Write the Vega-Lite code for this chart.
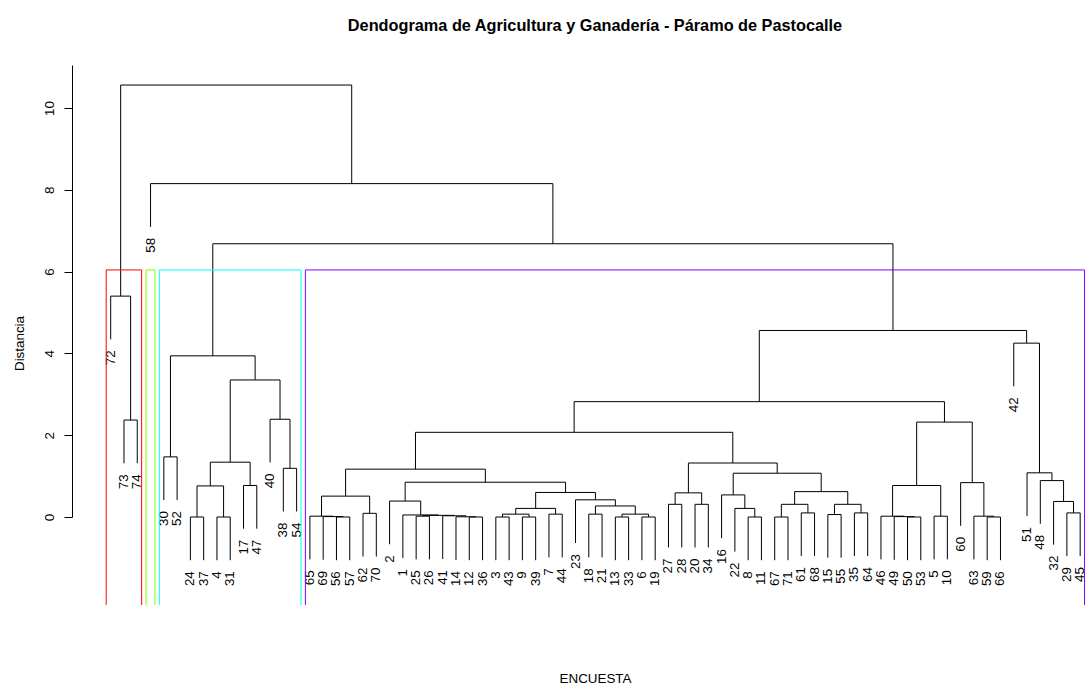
{
  "$schema": "https://vega.github.io/schema/vega-lite/v6.json",
  "width": 1016,
  "height": 540,
  "autosize": {"type": "none"},
  "padding": {"left": 72, "top": 65, "right": 0, "bottom": 81},
  "background": "white",
  "config": {"view": {"stroke": null}, "font": "Liberation Sans"},
  "title": {"text": "Dendograma de Agricultura y Ganadería - Páramo de Pastocalle", "fontSize": 16.3, "fontWeight": "bold", "font": "Liberation Sans", "anchor": "middle", "dx": 15, "frame": "group", "offset": 18, "baseline": "alphabetic", "color": "black"},
  "datasets": {
    "merges": [
      {"xl": 2, "xr": 3, "h": 2.37, "hl": 1.314, "hr": 1.314},
      {"xl": 1, "xr": 2.5, "h": 5.4, "hl": 4.344, "hr": 2.37},
      {"xl": 5, "xr": 6, "h": 1.47, "hl": 0.414, "hr": 0.414},
      {"xl": 7, "xr": 8, "h": 0, "hl": -1.056, "hr": -1.056},
      {"xl": 9, "xr": 10, "h": 0, "hl": -1.056, "hr": -1.056},
      {"xl": 7.5, "xr": 9.5, "h": 0.76, "hl": 0, "hr": 0},
      {"xl": 11, "xr": 12, "h": 0.77, "hl": -0.286, "hr": -0.286},
      {"xl": 8.5, "xr": 11.5, "h": 1.34, "hl": 0.76, "hr": 0.77},
      {"xl": 14, "xr": 15, "h": 1.19, "hl": 0.134, "hr": 0.134},
      {"xl": 13, "xr": 14.5, "h": 2.39, "hl": 1.334, "hr": 1.19},
      {"xl": 10, "xr": 13.75, "h": 3.35, "hl": 1.34, "hr": 2.39},
      {"xl": 5.5, "xr": 11.875, "h": 3.94, "hl": 1.47, "hr": 3.35},
      {"xl": 18, "xr": 19, "h": 0, "hl": -1.056, "hr": -1.056},
      {"xl": 17, "xr": 18.5, "h": 0.01, "hl": -1.046, "hr": 0},
      {"xl": 16, "xr": 17.75, "h": 0.02, "hl": -1.036, "hr": 0.01},
      {"xl": 20, "xr": 21, "h": 0.09, "hl": -0.966, "hr": -0.966},
      {"xl": 16.875, "xr": 20.5, "h": 0.51, "hl": 0.02, "hr": 0.09},
      {"xl": 28, "xr": 29, "h": 0, "hl": -1.056, "hr": -1.056},
      {"xl": 27, "xr": 28.5, "h": 0.005, "hl": -1.051, "hr": 0},
      {"xl": 26, "xr": 27.75, "h": 0.03, "hl": -1.026, "hr": 0.005},
      {"xl": 24, "xr": 25, "h": 0.02, "hl": -1.036, "hr": -1.036},
      {"xl": 24.5, "xr": 26.875, "h": 0.04, "hl": 0.02, "hr": 0.03},
      {"xl": 23, "xr": 25.6875, "h": 0.05, "hl": -1.006, "hr": 0.04},
      {"xl": 22, "xr": 24.34375, "h": 0.39, "hl": -0.666, "hr": 0.05},
      {"xl": 30, "xr": 31, "h": 0, "hl": -1.056, "hr": -1.056},
      {"xl": 32, "xr": 33, "h": 0, "hl": -1.056, "hr": -1.056},
      {"xl": 30.5, "xr": 32.5, "h": 0.07, "hl": 0, "hr": 0},
      {"xl": 34, "xr": 35, "h": 0.07, "hl": -0.986, "hr": -0.986},
      {"xl": 31.5, "xr": 34.5, "h": 0.21, "hl": 0.07, "hr": 0.07},
      {"xl": 37, "xr": 38, "h": 0.07, "hl": -0.986, "hr": -0.986},
      {"xl": 39, "xr": 40, "h": 0, "hl": -1.056, "hr": -1.056},
      {"xl": 41, "xr": 42, "h": 0, "hl": -1.056, "hr": -1.056},
      {"xl": 39.5, "xr": 41.5, "h": 0.07, "hl": 0, "hr": 0},
      {"xl": 37.5, "xr": 40.5, "h": 0.27, "hl": 0.07, "hr": 0.07},
      {"xl": 36, "xr": 39, "h": 0.42, "hl": -0.636, "hr": 0.27},
      {"xl": 33, "xr": 37.5, "h": 0.6, "hl": 0.21, "hr": 0.42},
      {"xl": 23.171875, "xr": 35.25, "h": 0.85, "hl": 0.39, "hr": 0.6},
      {"xl": 18.6875, "xr": 29.2109, "h": 1.17, "hl": 0.51, "hr": 0.85},
      {"xl": 43, "xr": 44, "h": 0.31, "hl": -0.746, "hr": -0.746},
      {"xl": 45, "xr": 46, "h": 0.31, "hl": -0.746, "hr": -0.746},
      {"xl": 43.5, "xr": 45.5, "h": 0.59, "hl": 0.31, "hr": 0.31},
      {"xl": 49, "xr": 50, "h": 0, "hl": -1.056, "hr": -1.056},
      {"xl": 48, "xr": 49.5, "h": 0.21, "hl": -0.846, "hr": 0},
      {"xl": 47, "xr": 48.75, "h": 0.54, "hl": -0.516, "hr": 0.21},
      {"xl": 51, "xr": 52, "h": 0, "hl": -1.056, "hr": -1.056},
      {"xl": 53, "xr": 54, "h": 0.1, "hl": -0.956, "hr": -0.956},
      {"xl": 51.5, "xr": 53.5, "h": 0.31, "hl": 0, "hr": 0.1},
      {"xl": 55, "xr": 56, "h": 0.06, "hl": -0.996, "hr": -0.996},
      {"xl": 57, "xr": 58, "h": 0.1, "hl": -0.956, "hr": -0.956},
      {"xl": 55.5, "xr": 57.5, "h": 0.31, "hl": 0.06, "hr": 0.1},
      {"xl": 52.5, "xr": 56.5, "h": 0.62, "hl": 0.31, "hr": 0.31},
      {"xl": 47.875, "xr": 54.5, "h": 1.07, "hl": 0.54, "hr": 0.62},
      {"xl": 44.5, "xr": 51.1875, "h": 1.32, "hl": 0.59, "hr": 1.07},
      {"xl": 23.9492, "xr": 47.8438, "h": 2.07, "hl": 1.17, "hr": 1.32},
      {"xl": 61, "xr": 62, "h": 0, "hl": -1.056, "hr": -1.056},
      {"xl": 60, "xr": 61.5, "h": 0.01, "hl": -1.046, "hr": 0},
      {"xl": 59, "xr": 60.75, "h": 0.02, "hl": -1.036, "hr": 0.01},
      {"xl": 63, "xr": 64, "h": 0.02, "hl": -1.036, "hr": -1.036},
      {"xl": 59.875, "xr": 63.5, "h": 0.77, "hl": 0.02, "hr": 0.02},
      {"xl": 67, "xr": 68, "h": 0, "hl": -1.056, "hr": -1.056},
      {"xl": 66, "xr": 67.5, "h": 0.02, "hl": -1.036, "hr": 0},
      {"xl": 65, "xr": 66.75, "h": 0.84, "hl": -0.216, "hr": 0.02},
      {"xl": 61.6875, "xr": 65.875, "h": 2.32, "hl": 0.77, "hr": 0.84},
      {"xl": 35.8965, "xr": 63.7813, "h": 2.82, "hl": 2.07, "hr": 2.32},
      {"xl": 73, "xr": 74, "h": 0.1, "hl": -0.956, "hr": -0.956},
      {"xl": 72, "xr": 73.5, "h": 0.38, "hl": -0.676, "hr": 0.1},
      {"xl": 71, "xr": 72.75, "h": 0.89, "hl": -0.166, "hr": 0.38},
      {"xl": 70, "xr": 71.875, "h": 1.08, "hl": 0.024, "hr": 0.89},
      {"xl": 69, "xr": 70.9375, "h": 4.25, "hl": 3.194, "hr": 1.08},
      {"xl": 49.8389, "xr": 69.9688, "h": 4.56, "hl": 2.82, "hr": 4.25},
      {"xl": 8.6875, "xr": 59.9038, "h": 6.68, "hl": 3.94, "hr": 4.56},
      {"xl": 4, "xr": 34.2957, "h": 8.15, "hl": 7.094, "hr": 6.68},
      {"xl": 1.75, "xr": 19.1478, "h": 10.56, "hl": 5.4, "hr": 8.15}
    ],
    "leaves": [
      {"pos": 1, "label": "72", "bottom": 4.344},
      {"pos": 2, "label": "73", "bottom": 1.314},
      {"pos": 3, "label": "74", "bottom": 1.314},
      {"pos": 4, "label": "58", "bottom": 7.094},
      {"pos": 5, "label": "30", "bottom": 0.414},
      {"pos": 6, "label": "52", "bottom": 0.414},
      {"pos": 7, "label": "24", "bottom": -1.056},
      {"pos": 8, "label": "37", "bottom": -1.056},
      {"pos": 9, "label": "4", "bottom": -1.056},
      {"pos": 10, "label": "31", "bottom": -1.056},
      {"pos": 11, "label": "17", "bottom": -0.286},
      {"pos": 12, "label": "47", "bottom": -0.286},
      {"pos": 13, "label": "40", "bottom": 1.334},
      {"pos": 14, "label": "38", "bottom": 0.134},
      {"pos": 15, "label": "54", "bottom": 0.134},
      {"pos": 16, "label": "65", "bottom": -1.036},
      {"pos": 17, "label": "69", "bottom": -1.046},
      {"pos": 18, "label": "56", "bottom": -1.056},
      {"pos": 19, "label": "57", "bottom": -1.056},
      {"pos": 20, "label": "62", "bottom": -0.966},
      {"pos": 21, "label": "70", "bottom": -0.966},
      {"pos": 22, "label": "2", "bottom": -0.666},
      {"pos": 23, "label": "1", "bottom": -1.006},
      {"pos": 24, "label": "25", "bottom": -1.036},
      {"pos": 25, "label": "26", "bottom": -1.036},
      {"pos": 26, "label": "41", "bottom": -1.026},
      {"pos": 27, "label": "14", "bottom": -1.051},
      {"pos": 28, "label": "12", "bottom": -1.056},
      {"pos": 29, "label": "36", "bottom": -1.056},
      {"pos": 30, "label": "3", "bottom": -1.056},
      {"pos": 31, "label": "43", "bottom": -1.056},
      {"pos": 32, "label": "9", "bottom": -1.056},
      {"pos": 33, "label": "39", "bottom": -1.056},
      {"pos": 34, "label": "7", "bottom": -0.986},
      {"pos": 35, "label": "44", "bottom": -0.986},
      {"pos": 36, "label": "23", "bottom": -0.636},
      {"pos": 37, "label": "18", "bottom": -0.986},
      {"pos": 38, "label": "21", "bottom": -0.986},
      {"pos": 39, "label": "13", "bottom": -1.056},
      {"pos": 40, "label": "33", "bottom": -1.056},
      {"pos": 41, "label": "6", "bottom": -1.056},
      {"pos": 42, "label": "19", "bottom": -1.056},
      {"pos": 43, "label": "27", "bottom": -0.746},
      {"pos": 44, "label": "28", "bottom": -0.746},
      {"pos": 45, "label": "20", "bottom": -0.746},
      {"pos": 46, "label": "34", "bottom": -0.746},
      {"pos": 47, "label": "16", "bottom": -0.516},
      {"pos": 48, "label": "22", "bottom": -0.846},
      {"pos": 49, "label": "8", "bottom": -1.056},
      {"pos": 50, "label": "11", "bottom": -1.056},
      {"pos": 51, "label": "67", "bottom": -1.056},
      {"pos": 52, "label": "71", "bottom": -1.056},
      {"pos": 53, "label": "61", "bottom": -0.956},
      {"pos": 54, "label": "68", "bottom": -0.956},
      {"pos": 55, "label": "15", "bottom": -0.996},
      {"pos": 56, "label": "55", "bottom": -0.996},
      {"pos": 57, "label": "35", "bottom": -0.956},
      {"pos": 58, "label": "64", "bottom": -0.956},
      {"pos": 59, "label": "46", "bottom": -1.036},
      {"pos": 60, "label": "49", "bottom": -1.046},
      {"pos": 61, "label": "50", "bottom": -1.056},
      {"pos": 62, "label": "53", "bottom": -1.056},
      {"pos": 63, "label": "5", "bottom": -1.036},
      {"pos": 64, "label": "10", "bottom": -1.036},
      {"pos": 65, "label": "60", "bottom": -0.216},
      {"pos": 66, "label": "63", "bottom": -1.036},
      {"pos": 67, "label": "59", "bottom": -1.056},
      {"pos": 68, "label": "66", "bottom": -1.056},
      {"pos": 69, "label": "42", "bottom": 3.194},
      {"pos": 70, "label": "51", "bottom": 0.024},
      {"pos": 71, "label": "48", "bottom": -0.166},
      {"pos": 72, "label": "32", "bottom": -0.676},
      {"pos": 73, "label": "29", "bottom": -0.956},
      {"pos": 74, "label": "45", "bottom": -0.956}
    ],
    "clusters": [
      {"cluster": "1", "x1": 0.66, "x2": 3.33, "top": 6.04, "bottom": -2.15},
      {"cluster": "2", "x1": 3.66, "x2": 4.33, "top": 6.04, "bottom": -2.15},
      {"cluster": "3", "x1": 4.66, "x2": 15.33, "top": 6.04, "bottom": -2.15},
      {"cluster": "4", "x1": 15.66, "x2": 74.33, "top": 6.04, "bottom": -2.15}
    ]
  },
  "layer": [
    {
      "data": {"name": "merges"},
      "mark": {"type": "rule", "color": "black", "strokeWidth": 1},
      "encoding": {
        "x": {"field": "xl", "type": "quantitative", "title": "ENCUESTA", "scale": {"domain": [-1.914, 74.59], "nice": false, "zero": false},
          "axis": {"domain": false, "ticks": false, "labels": false, "grid": false, "title": "ENCUESTA", "titleFontSize": 13.4, "titleFontWeight": "normal", "titleColor": "black", "titleX": 523, "titleY": 77, "titleAlign": "center", "titleBaseline": "alphabetic", "titleFont": "Liberation Sans"}},
        "x2": {"field": "xr"},
        "y": {"field": "h", "type": "quantitative", "title": "Distancia", "scale": {"domain": [0, 11.05], "range": [452, 0], "nice": false, "zero": false},
          "axis": {"values": [0, 2, 4, 6, 8, 10], "grid": false, "domain": true, "domainColor": "black", "domainWidth": 1, "ticks": true, "tickColor": "black", "tickSize": 8, "tickWidth": 1, "labelAngle": 270, "labelAlign": "center", "labelBaseline": "alphabetic", "labelPadding": 11, "labelFontSize": 13.4, "labelColor": "black", "labelFont": "Liberation Sans", "labelFlush": false, "labelOverlap": false, "title": "Distancia", "titleAngle": 270, "titleX": -49, "titleY": 278, "titleAlign": "center", "titleBaseline": "alphabetic", "titleFontSize": 13.4, "titleFontWeight": "normal", "titleColor": "black", "titleFont": "Liberation Sans"}}
      }
    },
    {
      "data": {"name": "merges"},
      "mark": {"type": "rule", "color": "black", "strokeWidth": 1},
      "encoding": {
        "x": {"field": "xl", "type": "quantitative", "title": "ENCUESTA", "scale": {"domain": [-1.914, 74.59], "nice": false, "zero": false}},
        "y": {"field": "hl", "type": "quantitative", "title": "Distancia", "scale": {"domain": [0, 11.05], "range": [452, 0], "nice": false, "zero": false}},
        "y2": {"field": "h"}
      }
    },
    {
      "data": {"name": "merges"},
      "mark": {"type": "rule", "color": "black", "strokeWidth": 1},
      "encoding": {
        "x": {"field": "xr", "type": "quantitative", "title": "ENCUESTA", "scale": {"domain": [-1.914, 74.59], "nice": false, "zero": false}},
        "y": {"field": "hr", "type": "quantitative", "title": "Distancia", "scale": {"domain": [0, 11.05], "range": [452, 0], "nice": false, "zero": false}},
        "y2": {"field": "h"}
      }
    },
    {
      "data": {"name": "leaves"},
      "mark": {"type": "text", "angle": 270, "align": "right", "baseline": "middle", "dx": -11, "fontSize": 13.4, "color": "black", "font": "Liberation Sans"},
      "encoding": {
        "x": {"field": "pos", "type": "quantitative", "title": "ENCUESTA", "scale": {"domain": [-1.914, 74.59], "nice": false, "zero": false}},
        "y": {"field": "bottom", "type": "quantitative", "title": "Distancia", "scale": {"domain": [0, 11.05], "range": [452, 0], "nice": false, "zero": false}},
        "text": {"field": "label"}
      }
    },
    {
      "data": {"name": "clusters"},
      "mark": {"type": "rule", "strokeWidth": 1},
      "encoding": {
        "x": {"field": "x1", "type": "quantitative", "title": "ENCUESTA", "scale": {"domain": [-1.914, 74.59], "nice": false, "zero": false}},
        "x2": {"field": "x2"},
        "y": {"field": "top", "type": "quantitative", "title": "Distancia", "scale": {"domain": [0, 11.05], "range": [452, 0], "nice": false, "zero": false}},
        "color": {"field": "cluster", "type": "nominal", "scale": {"domain": ["1", "2", "3", "4"], "range": ["#ff0000", "#80ff00", "#00ffff", "#8000ff"]}, "legend": null}
      }
    },
    {
      "data": {"name": "clusters"},
      "mark": {"type": "rule", "strokeWidth": 1},
      "encoding": {
        "x": {"field": "x1", "type": "quantitative", "title": "ENCUESTA", "scale": {"domain": [-1.914, 74.59], "nice": false, "zero": false}},
        "y": {"field": "bottom", "type": "quantitative", "title": "Distancia", "scale": {"domain": [0, 11.05], "range": [452, 0], "nice": false, "zero": false}},
        "y2": {"field": "top"},
        "color": {"field": "cluster", "type": "nominal", "scale": {"domain": ["1", "2", "3", "4"], "range": ["#ff0000", "#80ff00", "#00ffff", "#8000ff"]}, "legend": null}
      }
    },
    {
      "data": {"name": "clusters"},
      "mark": {"type": "rule", "strokeWidth": 1},
      "encoding": {
        "x": {"field": "x2", "type": "quantitative", "title": "ENCUESTA", "scale": {"domain": [-1.914, 74.59], "nice": false, "zero": false}},
        "y": {"field": "bottom", "type": "quantitative", "title": "Distancia", "scale": {"domain": [0, 11.05], "range": [452, 0], "nice": false, "zero": false}},
        "y2": {"field": "top"},
        "color": {"field": "cluster", "type": "nominal", "scale": {"domain": ["1", "2", "3", "4"], "range": ["#ff0000", "#80ff00", "#00ffff", "#8000ff"]}, "legend": null}
      }
    }
  ]
}
